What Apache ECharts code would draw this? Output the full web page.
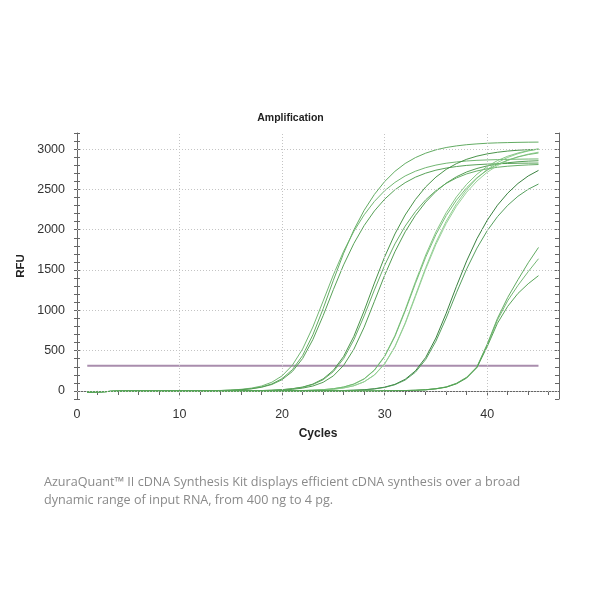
<!DOCTYPE html>
<html>
<head>
<meta charset="utf-8">
<script src="https://cdn.jsdelivr.net/npm/echarts/dist/echarts.min.js"></script>
<style>
html,body{margin:0;padding:0;background:#fff;}
#chart{width:600px;height:600px;}
</style>
</head>
<body>
<div id="chart"></div>
<script>
// ---- data ----
const cycles = [1,2,3,4,5,6,7,8,9,10,11,12,13,14,15,16,17,18,19,20,21,22,23,24,25,26,27,28,29,30,31,32,33,34,35,36,37,38,39,40,41,42,43,44,45];

const A1 = [-14,-10,-7,-4,-2,0,0,0,0,0,0,2,3,5,9,16,28,50,87,153,263,439,696,1020,1373,1708,1999,2241,2438,2598,2724,2822,2895,2950,2991,3020,3040,3055,3065,3073,3078,3081,3084,3086,3087];
const A2 = [-14,-10,-7,-4,-2,0,0,0,0,0,1,2,4,6,11,20,35,61,108,187,319,520,793,1115,1440,1733,1981,2185,2351,2484,2587,2667,2726,2770,2802,2825,2841,2853,2861,2866,2870,2873,2875,2877,2878];
const A3 = [-14,-10,-7,-4,-2,0,0,0,0,0,0,2,3,5,8,15,26,46,80,140,241,402,637,934,1258,1564,1830,2052,2233,2379,2495,2584,2652,2702,2739,2765,2784,2798,2807,2814,2819,2822,2825,2826,2827];
const B1 = [-14,-10,-7,-4,-2,0,0,0,0,0,0,0,0,0,1,2,3,5,9,16,28,48,85,149,256,428,678,994,1338,1664,1947,2183,2375,2531,2653,2749,2820,2874,2913,2941,2961,2976,2986,2993,2998];
const B2 = [-14,-10,-7,-4,-2,0,0,0,0,0,0,0,0,0,0,1,2,4,6,11,20,35,61,107,187,317,518,791,1111,1435,1727,1974,2178,2343,2475,2578,2657,2717,2760,2792,2815,2831,2843,2851,2856];
const B3 = [-14,-10,-7,-4,-2,0,0,0,0,0,0,0,0,0,1,2,3,5,8,15,26,45,80,139,240,401,635,931,1253,1559,1824,2045,2225,2371,2486,2575,2642,2693,2729,2756,2775,2788,2797,2804,2809];
const C1 = [-14,-10,-7,-4,-2,0,0,0,0,0,0,0,0,0,0,0,0,0,0,1,2,4,7,12,21,37,65,114,199,338,552,843,1185,1530,1842,2105,2322,2498,2639,2749,2833,2897,2943,2977,3001];
const C2 = [-14,-10,-7,-4,-2,0,0,0,0,0,0,0,0,0,0,0,0,0,1,2,3,5,9,16,28,49,86,151,260,434,687,1007,1355,1686,1973,2212,2407,2564,2689,2785,2858,2912,2952,2981,3001];
const C3 = [-14,-10,-7,-4,-2,0,0,0,0,0,0,0,0,0,0,0,0,0,0,1,2,4,7,12,21,37,64,113,196,334,545,832,1169,1510,1817,2077,2292,2466,2604,2713,2796,2859,2905,2938,2962];
const C4 = [-14,-10,-7,-4,-2,0,0,0,0,0,0,0,0,0,0,0,0,0,1,2,3,5,9,16,27,48,85,148,256,427,675,991,1333,1658,1940,2175,2367,2522,2645,2739,2811,2864,2903,2932,2952];
const D1 = [-14,-10,-7,-4,-2,0,0,0,0,0,0,0,0,0,0,0,0,0,0,0,0,0,1,2,3,5,9,15,27,47,82,144,249,415,657,964,1298,1614,1889,2117,2304,2454,2574,2667,2736];
const D2 = [-14,-10,-7,-4,-2,0,0,0,0,0,0,0,0,0,0,0,0,0,0,0,0,0,1,2,3,5,8,14,25,44,77,135,233,390,617,905,1218,1514,1772,1987,2162,2303,2415,2502,2567];
const E1 = [-14,-10,-7,-4,-2,0,0,0,0,0,0,0,0,0,0,0,0,0,0,0,0,0,0,0,0,0,0,0,0,2,3,5,8,15,28,50,95,170,300,580,900,1160,1380,1590,1780];
const E2 = [-14,-10,-7,-4,-2,0,0,0,0,0,0,0,0,0,0,0,0,0,0,0,0,0,0,0,0,0,0,0,0,2,3,5,8,15,27,48,92,165,295,570,880,1120,1310,1480,1640];
const E3 = [-14,-10,-7,-4,-2,0,0,0,0,0,0,0,0,0,0,0,0,0,0,0,0,0,0,0,0,0,0,0,0,2,3,5,8,14,26,46,88,160,290,550,840,1050,1210,1330,1430];

const thresholdValue = 311;
const thresholdCycles = [1, 45];

const xLabelTicks = [0, 10, 20, 30, 40];
const yLabelTicks = [0, 500, 1000, 1500, 2000, 2500, 3000];

const titleText = 'Amplification';
const xName = 'Cycles';
const yName = 'RFU';
const caption1 = 'AzuraQuant\u2122 II cDNA Synthesis Kit displays efficient cDNA synthesis over a broad';
const caption2 = 'dynamic range of input RNA, from 400 ng to 4 pg.';

// ---- styles ----
const curveDefs = [
  [A1, '#5aa65a'], [A2, '#6ab26a'], [A3, '#4f9c4f'],
  [B1, '#3f8d3f'], [B2, '#4a984a'], [B3, '#5fa95f'],
  [C1, '#8acb8a'], [C2, '#7dc27d'], [C3, '#93cf93'], [C4, '#72bb72'],
  [D1, '#2f7a36'], [D2, '#4d9a55'],
  [E1, '#5aa65a'], [E2, '#6fb46f'], [E3, '#4f9f4f']
];

const chart = echarts.init(document.getElementById('chart'), null, {renderer: 'canvas'});

const series = [];
// grid lines helper
series.push({
  type: 'line',
  data: [],
  silent: true,
  z: 1,
  markLine: {
    silent: true,
    symbol: ['none', 'none'],
    label: {show: false},
    animation: false,
    lineStyle: {color: '#c4c4c4', type: [1, 2], width: 1},
    data: xLabelTicks.filter(v => v > 0).map(v => ({xAxis: v}))
      .concat(yLabelTicks.map(v => ({yAxis: v})))
  }
});
// threshold
series.push({
  type: 'line',
  data: thresholdCycles.map(c => [c, thresholdValue]),
  symbol: 'none',
  z: 2,
  lineStyle: {color: '#a98dad', width: 2},
  silent: true
});
curveDefs.forEach((d, i) => {
  series.push({
    type: 'line',
    data: cycles.map((c, k) => [c, d[0][k]]),
    symbol: 'none',
    smooth: false,
    z: 3,
    lineStyle: {color: d[1], width: 1, opacity: 0.95},
    silent: true
  });
});

const axisColor = '#666';
const option = {
  backgroundColor: '#fff',
  animation: false,
  grid: {left: 77, right: 41, top: 133, bottom: 201, containLabel: false, show: false},
  xAxis: [
    {
      type: 'value', min: 0, max: 47, interval: 2, position: 'bottom',
      axisLine: {show: true, lineStyle: {color: axisColor, width: 1}},
      axisTick: {show: true, inside: false, length: 4, lineStyle: {color: axisColor}},
      axisLabel: {
        show: true, margin: 9, color: '#333', fontSize: 12.5,
        fontFamily: 'Liberation Sans, Arial, sans-serif',
        showMaxLabel: false,
        formatter: v => (xLabelTicks.indexOf(v) >= 0 ? String(v) : '')
      },
      splitLine: {show: false}
    },
    {
      type: 'value', min: 0, max: 47, interval: 2, position: 'top',
      axisLine: {show: true, lineStyle: {color: axisColor, width: 1}},
      axisTick: {show: true, inside: true, length: 4, lineStyle: {color: axisColor}},
      axisLabel: {show: false},
      splitLine: {show: false}
    }
  ],
  yAxis: [
    {
      type: 'value', min: -100, max: 3200, interval: 100, position: 'left',
      axisLine: {show: true, lineStyle: {color: axisColor, width: 1}},
      axisTick: {show: true, inside: false, length: 3, lineStyle: {color: axisColor}},
      axisLabel: {
        show: true, margin: 12, color: '#333', fontSize: 12.5,
        fontFamily: 'Liberation Sans, Arial, sans-serif',
        formatter: v => (yLabelTicks.indexOf(v) >= 0 ? String(v) : '')
      },
      splitLine: {show: false}
    },
    {
      type: 'value', min: -100, max: 3200, interval: 100, position: 'left',
      axisLine: {show: false},
      axisTick: {show: true, inside: true, length: 3, lineStyle: {color: axisColor}},
      axisLabel: {show: false},
      splitLine: {show: false}
    },
    {
      type: 'value', min: -100, max: 3200, interval: 100, position: 'right',
      axisLine: {show: true, lineStyle: {color: axisColor, width: 1}},
      axisTick: {show: true, inside: true, length: 4, lineStyle: {color: axisColor}},
      axisLabel: {show: false},
      splitLine: {show: false}
    }
  ],
  graphic: [
    {type: 'text', x: 290.5, y: 118, silent: true,
     style: {text: titleText, font: 'bold 10.5px "Liberation Sans", Arial, sans-serif', fill: '#222', align: 'center', verticalAlign: 'middle'}},
    {type: 'text', x: 21, y: 266, rotation: Math.PI / 2, silent: true,
     style: {text: yName, font: 'bold 11.5px "Liberation Sans", Arial, sans-serif', fill: '#222', align: 'center', verticalAlign: 'middle'}},
    {type: 'text', x: 318, y: 434, silent: true,
     style: {text: xName, font: 'bold 12px "Liberation Sans", Arial, sans-serif', fill: '#222', align: 'center', verticalAlign: 'middle'}},
    {type: 'text', x: 44, y: 482, silent: true,
     style: {text: caption1, font: '12.6px "Open Sans", sans-serif', fill: '#8a8a8a', align: 'left', verticalAlign: 'middle'}},
    {type: 'text', x: 44, y: 500, silent: true,
     style: {text: caption2, font: '12.6px "Open Sans", sans-serif', fill: '#8a8a8a', align: 'left', verticalAlign: 'middle'}}
  ],
  series: series
};
chart.setOption(option);
</script>
</body>
</html>
